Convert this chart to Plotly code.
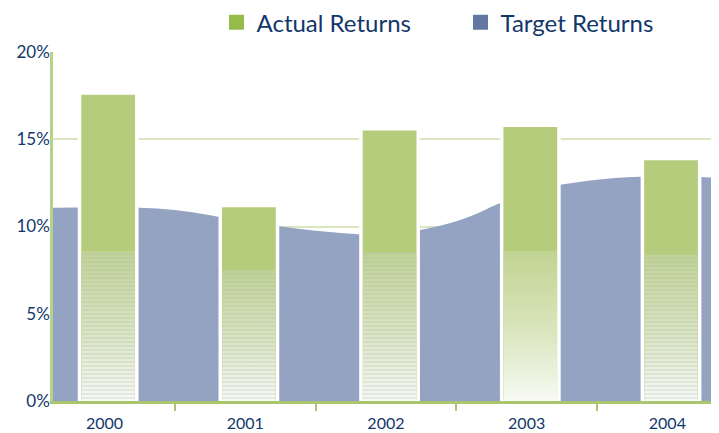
import plotly.graph_objects as go

# ---- data ----
years = [2000, 2001, 2002, 2003, 2004]
year_labels = ["2000", "2001", "2002", "2003", "2004"]
actual_returns = [17.65, 11.2, 15.6, 15.8, 13.9]
target_years = [1999.5, 2000, 2000.5, 2001, 2001.5, 2002, 2002.5, 2003, 2003.5, 2004, 2004.5]
target_returns = [11.05, 11.1, 10.95, 10.3, 9.75, 9.55, 10.3, 11.95, 12.68, 12.88, 12.72]
y_ticks = [0, 5, 10, 15, 20]
y_tick_labels = ["0%", "5%", "10%", "15%", "20%"]

# ---- style ----
NAVY = "#12376b"
BAR_GREEN = "#b5cc7c"
AREA_BLUE = "#94a3c2"
LEG_GREEN = "#97bb48"
LEG_BLUE = "#6278a0"
GRID = "#d9e6bf"
AXIS_GREEN = "#a9c66f"
FONT = "Lato"
BAR_W = 0.407
BAR_SHIFT = 0.026
INSET = 0.014
FADE_TOP = [8.6, 7.5, 8.5, 8.6, 8.4]
STRIPED = [True, True, True, False, True]
X_RANGE = [1999.634, 2004.367]
Y_RANGE = [0, 20]

fig = go.Figure()

# target area on the base axes (drawn first, beneath the bars)
fig.add_trace(go.Scatter(
    x=target_years, y=target_returns, mode="lines",
    line=dict(shape="spline", width=0, color=AREA_BLUE, smoothing=1.0),
    fill="tozeroy", fillcolor=AREA_BLUE, showlegend=False, hoverinfo="skip",
    xaxis="x", yaxis="y"))

# actual bars on overlaying axes so they sit above the area
fig.add_trace(go.Bar(
    x=years, y=actual_returns, width=BAR_W, offset=-BAR_W / 2 + BAR_SHIFT,
    marker=dict(color=BAR_GREEN, line=dict(color="white", width=3.5)),
    showlegend=False, xaxis="x2", yaxis="y2"))

for yr, val, top, striped in zip(years, actual_returns, FADE_TOP, STRIPED):
    left = yr - BAR_W / 2 + BAR_SHIFT + INSET
    right = yr + BAR_W / 2 + BAR_SHIFT - INSET
    h = min(top, val)
    xs = [left, right, right, left, left]
    ys = [0, 0, h, h, 0]
    fig.add_trace(go.Scatter(
        x=xs, y=ys, mode="lines", line=dict(width=0), fill="toself",
        fillgradient=dict(type="vertical", start=0, stop=h,
                          colorscale=[[0, "#f8faf3"], [0.45, "#dbe6bf"], [1, "#c0d391"]]),
        showlegend=False, hoverinfo="skip", xaxis="x2", yaxis="y2"))
    if striped:
        fig.add_trace(go.Scatter(
            x=xs, y=ys, mode="lines", line=dict(width=0), fill="toself",
            fillcolor="rgba(0,0,0,0)",
            fillpattern=dict(shape="-", size=4, solidity=0.25, fgcolor="#a3b1cc",
                             fgopacity=0.45, bgcolor="rgba(0,0,0,0)"),
            showlegend=False, hoverinfo="skip", xaxis="x2", yaxis="y2"))

fig.add_trace(go.Scatter(x=[None], y=[None], mode="markers", name="Actual Returns",
                         marker=dict(symbol="square", size=15, color=LEG_GREEN)))
fig.add_trace(go.Scatter(x=[None], y=[None], mode="markers", name="Target Returns",
                         marker=dict(symbol="square", size=15, color=LEG_BLUE)))

fig.update_layout(
    width=711, height=425,
    margin=dict(l=45, r=0, t=44, b=31.5, autoexpand=False),
    paper_bgcolor="white", plot_bgcolor="white",
    font=dict(family=FONT, color=NAVY),
    barmode="overlay",
    legend=dict(orientation="h", x=0.2455, xanchor="left", y=1.084, yanchor="middle",
                font=dict(size=24, color=NAVY), entrywidth=199, bgcolor="rgba(0,0,0,0)"),
    xaxis=dict(range=X_RANGE, tickmode="array", tickvals=years, ticktext=year_labels,
               ticks="", showgrid=False, zeroline=False, showline=True, linecolor=AXIS_GREEN,
               linewidth=3, tickfont=dict(size=16, color=NAVY), ticklabelstandoff=6,
               automargin=False, layer="above traces",
               minor=dict(tickmode="array", tickvals=[y + 0.5 for y in years[:-1]],
                          ticks="outside", ticklen=7, tickwidth=2, tickcolor=AXIS_GREEN,
                          showgrid=False)),
    yaxis=dict(range=Y_RANGE, tickmode="array", tickvals=y_ticks, ticktext=y_tick_labels,
               showgrid=True, gridcolor=GRID, gridwidth=2, zeroline=False,
               showline=True, linecolor="#b8d08a", linewidth=2.5, ticks="",
               tickfont=dict(size=17, color=NAVY), ticklabelstandoff=-3, automargin=False,
               layer="above traces"),
    xaxis2=dict(range=X_RANGE, overlaying="x", visible=False, showgrid=False, zeroline=False),
    yaxis2=dict(range=Y_RANGE, overlaying="y", visible=False, showgrid=False, zeroline=False),
)

fig.write_html("out.html")
